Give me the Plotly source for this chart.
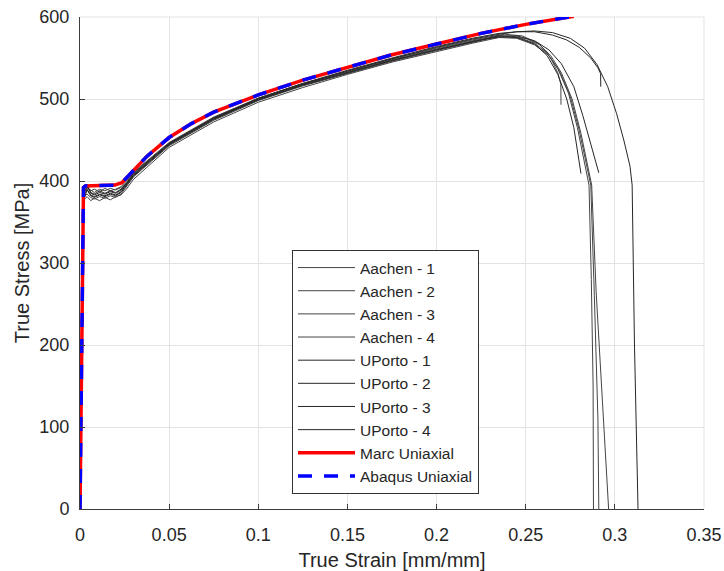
import plotly.graph_objects as go

# ---------------- data ----------------
x_ticks = [0, 0.05, 0.1, 0.15, 0.2, 0.25, 0.3, 0.35]
x_tick_text = ["0", "0.05", "0.1", "0.15", "0.2", "0.25", "0.3", "0.35"]
y_ticks = [0, 100, 200, 300, 400, 500, 600]

# shared strain grid for the pre-peak part of the experimental curves
eps_pre = [0, 0.001, 0.0018, 0.0025, 0.004, 0.006, 0.008, 0.011, 0.014, 0.017,
           0.020, 0.023, 0.026, 0.03, 0.04, 0.05, 0.075, 0.1, 0.125, 0.15,
           0.175, 0.2, 0.22]

aachen1_pre = [0, 198, 345, 382, 384, 380, 378, 381, 379, 382, 380, 384, 393, 405, 424, 443, 474, 498, 516, 531, 546, 559, 569]
aachen1_eps = [0.23, 0.24, 0.25, 0.258, 0.264, 0.268, 0.2697, 0.2698]
aachen1_sig = [574, 576, 574, 566, 550, 532, 518, 493]

aachen2_pre = [0, 200, 350, 388, 391, 389, 386, 390, 388, 391, 389, 392, 398, 410, 428, 446, 477, 500, 518, 533, 548, 561, 571]
aachen2_eps = [0.235, 0.245, 0.255, 0.262, 0.268, 0.274, 0.279, 0.283, 0.2855, 0.2868, 0.2878, 0.288]
aachen2_sig = [577, 576, 568, 556, 537, 507, 465, 422, 395, 280, 150, 0]

aachen3_pre = [0, 196, 342, 378, 381, 376, 379, 376, 380, 377, 381, 383, 390, 402, 421, 441, 472, 496, 514, 530, 545, 558, 568]
aachen3_eps = [0.235, 0.245, 0.255, 0.263, 0.269, 0.275, 0.28, 0.284, 0.2865, 0.2885, 0.2905, 0.291]
aachen3_sig = [575, 574, 566, 553, 534, 503, 462, 420, 395, 260, 110, 0]

aachen4_pre = [0, 199, 348, 386, 393, 388, 390, 387, 391, 388, 390, 393, 400, 411, 429, 447, 478, 501, 519, 534, 549, 562, 572]
aachen4_eps = [0.238, 0.248, 0.257, 0.264, 0.27, 0.276, 0.281, 0.2845, 0.287, 0.2895, 0.293, 0.2965]
aachen4_sig = [579, 577, 568, 553, 532, 500, 458, 420, 395, 265, 130, 0]

uporto1_pre = [0, 201, 352, 390, 396, 385, 383, 386, 384, 387, 385, 389, 396, 408, 426, 445, 476, 499, 517, 532, 547, 560, 570]
uporto1_eps = [0.235, 0.245, 0.255, 0.262, 0.268, 0.273, 0.277, 0.281]
uporto1_sig = [576, 575, 567, 553, 530, 500, 465, 409]

uporto2_pre = [0, 197, 344, 380, 389, 382, 380, 383, 381, 384, 382, 386, 394, 406, 425, 444, 475, 499, 517, 532, 547, 560, 570]
uporto2_eps = [0.235, 0.245, 0.255, 0.263, 0.27, 0.277, 0.282, 0.2865, 0.291]
uporto2_sig = [577, 577, 571, 560, 543, 515, 480, 445, 410]

uporto3_pre = [0, 200, 349, 387, 394, 386, 384, 388, 385, 388, 386, 390, 397, 409, 427, 446, 477, 501, 519, 535, 550, 564, 574]
uporto3_eps = [0.235, 0.245, 0.255, 0.265, 0.273, 0.28, 0.2865, 0.2905, 0.292, 0.2921]
uporto3_sig = [580, 582, 582, 578, 572, 563, 550, 538, 531, 515]

uporto4_pre = [0, 198, 346, 384, 390, 383, 381, 384, 382, 385, 383, 387, 395, 407, 426, 445, 476, 500, 518, 534, 549, 563, 573]
uporto4_eps = [0.235, 0.245, 0.255, 0.265, 0.275, 0.283, 0.29, 0.296, 0.301, 0.305, 0.3085, 0.3097, 0.311, 0.313]
uporto4_sig = [579, 582, 583, 581, 574, 562, 542, 515, 482, 450, 418, 395, 200, 0]

model_eps = [0, 0.00196, 0.003, 0.012, 0.0195, 0.0235, 0.0281, 0.0375, 0.05, 0.0625,
             0.075, 0.1, 0.125, 0.15, 0.175, 0.2, 0.225, 0.25, 0.277]
model_sig = [0, 392, 394, 394, 395, 398, 409, 430, 453, 470,
             484, 505, 523, 539, 554, 567, 580, 591, 601]

experiments = [
    ("Aachen - 1", aachen1_pre, aachen1_eps, aachen1_sig),
    ("Aachen - 2", aachen2_pre, aachen2_eps, aachen2_sig),
    ("Aachen - 3", aachen3_pre, aachen3_eps, aachen3_sig),
    ("Aachen - 4", aachen4_pre, aachen4_eps, aachen4_sig),
    ("UPorto - 1", uporto1_pre, uporto1_eps, uporto1_sig),
    ("UPorto - 2", uporto2_pre, uporto2_eps, uporto2_sig),
    ("UPorto - 3", uporto3_pre, uporto3_eps, uporto3_sig),
    ("UPorto - 4", uporto4_pre, uporto4_eps, uporto4_sig),
]

# ---------------- figure ----------------
FONT = "Liberation Sans, Arial, Helvetica, sans-serif"
TXT = "#262626"
fig = go.Figure()

for name, pre, eps, sig in experiments:
    color = "#444444" if name.startswith("Aachen") else "#262626"
    fig.add_trace(go.Scatter(
        x=eps_pre + eps, y=pre + sig, mode="lines", name=name,
        line=dict(color=color, width=1)))

fig.add_trace(go.Scatter(x=model_eps, y=model_sig, mode="lines", name="Marc Uniaxial",
                         line=dict(color="#ff0000", width=3.5)))
fig.add_trace(go.Scatter(x=model_eps, y=model_sig, mode="lines", name="Abaqus Uniaxial",
                         line=dict(color="#0000ff", width=3.5, dash="14px,12px")))

axis_common = dict(
    showline=True, linecolor="#3c3c3c", linewidth=1,
    ticks="inside", ticklen=5, tickcolor="#3c3c3c", tickwidth=1,
    showgrid=True, gridcolor="#e3e3e3", gridwidth=1,
    zeroline=False, mirror=False, automargin=False,
    tickfont=dict(family=FONT, size=18, color=TXT),
)

fig.update_layout(
    width=724, height=571,
    margin=dict(l=80, r=20, t=17, b=62),
    paper_bgcolor="white", plot_bgcolor="white",
    font=dict(family=FONT, color=TXT),
    xaxis=dict(range=[0, 0.35], tickvals=x_ticks, ticktext=x_tick_text,
               title=dict(text="True Strain [mm/mm]", font=dict(family=FONT, size=20, color=TXT), standoff=17),
               ticklabelstandoff=9, **axis_common),
    yaxis=dict(range=[0, 600], tickvals=y_ticks,
               title=dict(text="True Stress [MPa]", font=dict(family=FONT, size=20, color=TXT), standoff=4),
               ticklabelstandoff=6, **axis_common),
    legend=dict(x=(292 - 80) / 624, y=(509 - 494) / 492, xanchor="left", yanchor="bottom",
                bgcolor="white", bordercolor="#333333", borderwidth=1,
                font=dict(family=FONT, size=15.5, color=TXT),
                itemwidth=57, tracegroupgap=0),
    showlegend=True,
)

# light frame on top/right like the reference (grid-coloured)
fig.add_shape(type="line", xref="paper", yref="paper", x0=0, x1=1, y0=1, y1=1,
              line=dict(color="#e3e3e3", width=1), layer="below")
fig.add_shape(type="line", xref="paper", yref="paper", x0=1, x1=1, y0=0, y1=1,
              line=dict(color="#e3e3e3", width=1), layer="below")

fig.write_html("out.html")
